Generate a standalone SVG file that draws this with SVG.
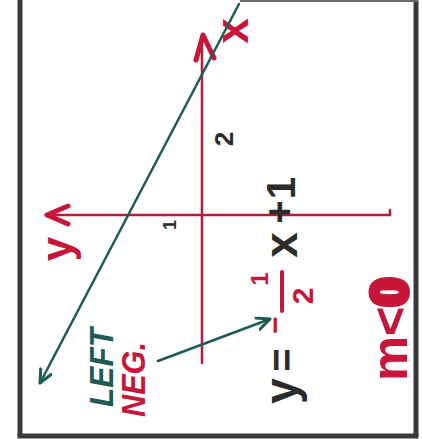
<svg xmlns="http://www.w3.org/2000/svg" width="422" height="439" viewBox="0 0 422 439">
  <defs>
    <style>
      .red { fill: #c8163a; }
      .ink { fill: #2b2b2b; }
      .teal { fill: #1e5a56; }
      .txt { font-family: "Liberation Sans", "DejaVu Sans", sans-serif; font-weight: bold; }
      .axis { stroke: #c0183c; stroke-width: 2.5; fill: none; stroke-linecap: round; }
      .axishead { stroke: #c8163a; stroke-width: 5; fill: none; stroke-linecap: round; stroke-linejoin: round; }
      .gline { stroke: #1e5a56; stroke-width: 2.5; fill: none; stroke-linecap: round; }
      .frame { stroke: #3a3a3a; stroke-width: 5; fill: none; }
    </style>
    <marker id="tealhead" markerUnits="userSpaceOnUse" markerWidth="18" markerHeight="18" refX="14" refY="7" orient="auto">
      <path d="M1,1 L14,7 L1,13" fill="none" stroke="#1e5a56" stroke-width="3" stroke-linecap="round" stroke-linejoin="round"/>
    </marker>
  </defs>
  <rect x="0" y="0" width="422" height="439" fill="#ffffff"/>
  <!-- frame -->
  <g id="frame">
    <line class="frame" x1="20" y1="0" x2="20" y2="436"/>
    <line class="frame" x1="416" y1="0" x2="416" y2="436"/>
    <line class="frame" x1="17.5" y1="436" x2="418.5" y2="436"/>
    <line x1="240" y1="1" x2="418" y2="1" stroke="#6a6a6a" stroke-width="2"/>
  </g>

  <!-- axes -->
  <g id="axes">
    <line class="axis" x1="46" y1="215" x2="390" y2="215"/>
    <line class="axis" x1="390" y1="215" x2="390" y2="210"/>
    <polyline class="axishead" points="68,206 47,215 68,224"/>
    <line class="axis" x1="202" y1="38" x2="202" y2="363"/>
    <polyline class="axishead" points="196,60 203,35 214,58"/>
  </g>

  <!-- axis labels -->
  <g id="label-x-axis">
    <text class="txt red" font-size="46" text-anchor="middle" transform="translate(248,31) rotate(-90)">x</text>
  </g>
  <g id="label-y-axis">
    <text class="txt red" font-size="44" text-anchor="middle" transform="translate(72,249) rotate(-90)">y</text>
  </g>
  <g id="tick-1">
    <text class="txt ink" font-size="18" text-anchor="middle" transform="translate(176,225) rotate(-90)">1</text>
  </g>
  <g id="tick-2">
    <text class="txt ink" font-size="26" text-anchor="middle" transform="translate(233,139) rotate(-90)">2</text>
  </g>

  <!-- equation -->
  <g id="equation">
    <text class="txt ink" font-size="46" text-anchor="middle" transform="translate(297,391) rotate(-90)">y</text>
    <text class="txt ink" font-size="40" text-anchor="middle" transform="translate(296,360) rotate(-90)">=</text>
    <text class="txt red" font-size="30" text-anchor="middle" transform="translate(285,325) rotate(-90)">−</text>
    <text class="txt red" font-size="24" text-anchor="middle" transform="translate(268,279) rotate(-90)">1</text>
    <line x1="282" y1="272" x2="282" y2="311" stroke="#c8163a" stroke-width="4" stroke-linecap="round"/>
    <text class="txt red" font-size="30" text-anchor="middle" transform="translate(313,296) rotate(-90)">2</text>
    <text class="txt ink" font-size="46" text-anchor="middle" transform="translate(297,245) rotate(-90)">x</text>
    <text class="txt ink" font-size="40" text-anchor="middle" transform="translate(293,212) rotate(-90)">+</text>
    <text class="txt ink" font-size="40" text-anchor="middle" transform="translate(295,188) rotate(-90)">1</text>
  </g>

  <!-- slope note -->
  <g id="slope-note">
    <text class="txt red" font-size="50" transform="translate(407,381) rotate(-90)" textLength="103" lengthAdjust="spacingAndGlyphs">m&lt;<tspan stroke="#c8163a" stroke-width="6">0</tspan></text>
  </g>

  <g id="label-left">
    <text class="txt teal" font-size="34" font-style="italic" transform="translate(113,407) rotate(-90)" textLength="79" lengthAdjust="spacingAndGlyphs">LEFT</text>
  </g>
  <g id="label-neg">
    <text class="txt red" font-size="34" font-style="italic" transform="translate(145,417) rotate(-90)" textLength="75" lengthAdjust="spacingAndGlyphs">NEG.</text>
  </g>

  <!-- connectors -->
  <g id="connectors">
    <line class="gline" x1="239" y1="4" x2="40" y2="383" marker-end="url(#tealhead)"/>
    <line class="gline" x1="158" y1="361" x2="270" y2="319" marker-end="url(#tealhead)"/>
  </g>
</svg>
